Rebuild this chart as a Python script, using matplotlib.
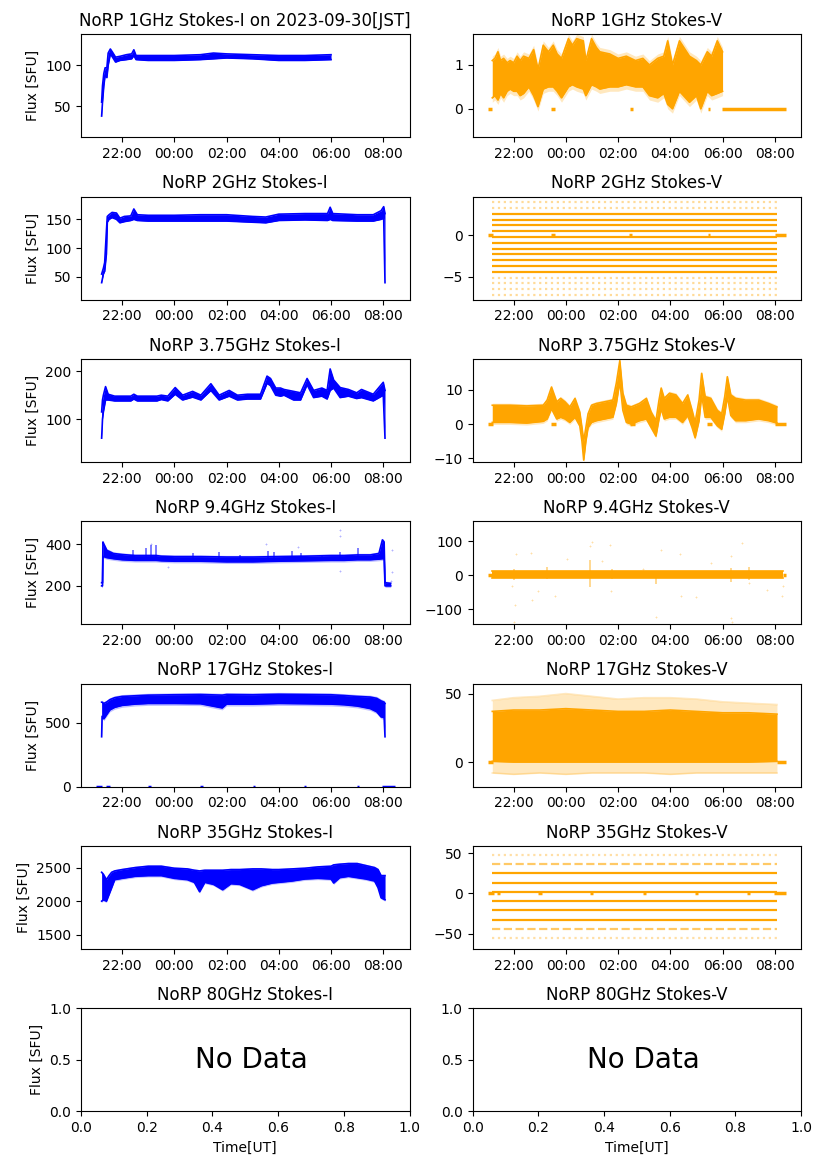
import datetime as dt
import matplotlib
matplotlib.use('Agg')
import matplotlib.pyplot as plt
import matplotlib.dates as mdates


# NoRP daily plot, 2023-09-29/30 (times in UT, 'HH:MM')
freqs = ['1GHz', '2GHz', '3.75GHz', '9.4GHz', '17GHz', '35GHz', '80GHz']
t_first, t_last = '21:00', '08:26'

# ---- Stokes-I bands (lower / upper envelope)
i1_time = ['21:13', '21:15', '21:18', '21:21', '21:25', '21:28', '21:33', '21:38', '21:45', '21:55', '22:10',
           '22:22', '22:27', '22:32', '23:00', '00:00', '01:00', '01:30', '02:00', '03:00', '04:00', '05:00', '06:00']
i1_lo = [38, 55, 75, 88, 85, 100, 114, 110, 104, 106, 107, 108, 112, 107, 106, 106, 107, 108, 109, 108, 106, 106, 107]
i1_hi = [55, 75, 90, 97, 97, 115, 120, 116, 110, 111, 113, 114, 119, 112, 112, 112, 113, 115, 114, 113, 112, 112, 113]

i2_time = ['21:13', '21:17', '21:20', '21:24', '21:26', '21:30', '21:37', '21:47', '21:55', '22:05', '22:20', '22:27',
           '22:35', '23:00', '00:00', '01:00', '02:00', '03:00', '03:30', '04:00', '05:00', '05:52', '05:58', '06:04',
           '07:00', '07:37', '07:55', '08:01', '08:04']
i2_lo = [40, 55, 60, 90, 145, 150, 153, 150, 144, 146, 148, 150, 148, 147, 147, 147, 147, 145, 144, 148, 149, 148,
         150, 148, 147, 147, 150, 152, 40]
i2_hi = [55, 65, 75, 130, 155, 158, 162, 161, 152, 155, 156, 168, 158, 157, 157, 158, 158, 155, 154, 159, 160, 160,
         171, 160, 158, 158, 165, 172, 160]

i3_time = ['21:13', '21:15', '21:17', '21:22', '21:28', '21:43', '22:20', '22:27', '22:35', '23:20', '23:30', '23:45',
           '00:02', '00:19', '00:42', '01:01', '01:24', '01:43', '02:06', '02:25', '02:48', '03:18', '03:33', '03:41',
           '03:53', '04:04', '04:12', '04:34', '04:50', '05:05', '05:20', '05:39', '05:51', '05:58', '06:06', '06:21',
           '06:40', '06:59', '07:10', '07:37', '08:00', '08:04']
i3_lo = [60, 100, 115, 140, 140, 138, 138, 142, 138, 138, 141, 138, 152, 140, 146, 140, 160, 140, 148, 140, 142, 142,
         175, 170, 150, 148, 150, 140, 140, 172, 145, 148, 142, 160, 165, 145, 148, 143, 145, 138, 150, 60]
i3_hi = [115, 140, 150, 168, 152, 148, 148, 152, 148, 148, 150, 148, 166, 150, 158, 150, 174, 150, 160, 150, 152, 152,
         190, 185, 165, 165, 162, 158, 155, 185, 160, 165, 160, 205, 182, 166, 162, 155, 162, 152, 177, 160]

i4_time = ['21:13', '21:15', '21:16', '21:18', '21:25', '21:40', '22:00', '22:30', '23:07', '23:18', '23:30', '00:00',
           '01:00', '02:00', '03:00', '04:00', '05:00', '06:00', '06:30', '07:00', '07:30', '07:50', '07:58', '08:02',
           '08:04', '08:05', '08:17']
i4_lo = [200, 200, 340, 340, 335, 330, 325, 322, 322, 322, 320, 318, 318, 315, 315, 318, 320, 322, 322, 325, 325,
         328, 330, 330, 200, 200, 200]
i4_hi = [215, 215, 410, 400, 370, 355, 350, 345, 345, 345, 342, 340, 340, 338, 338, 340, 342, 345, 345, 348, 348,
         355, 420, 410, 215, 215, 212]
i4_spike_time = ['22:25', '22:55', '23:07', '23:18', '00:43', '01:43', '02:30', '03:35', '03:50', '04:30', '04:50',
                 '05:40', '06:20', '07:03']
i4_spike_top = [370, 380, 395, 395, 355, 360, 350, 365, 360, 365, 355, 350, 360, 380]
i4_out_time = ['23:07', '03:30', '04:45', '06:20', '06:20', '06:20', '08:20', '08:20', '08:18', '23:45']
i4_out_val = [400, 400, 385, 465, 440, 270, 370, 265, 225, 290]

i5_time = ['21:13', '21:14', '21:18', '21:24', '21:32', '21:43', '22:00', '22:30', '23:00', '00:00', '01:00', '01:50',
           '02:00', '03:00', '04:00', '05:00', '06:00', '06:30', '07:00', '07:30', '07:45', '07:55', '08:02', '08:04']
i5_lo = [390, 550, 530, 560, 600, 620, 635, 645, 650, 650, 648, 615, 645, 645, 650, 648, 645, 640, 630, 610, 585,
         545, 540, 390]
i5_hi = [660, 660, 650, 660, 680, 695, 705, 710, 715, 718, 720, 715, 720, 718, 722, 720, 718, 712, 705, 700, 690,
         670, 660, 650]
i5_zero = [('21:01', '21:13'), ('21:24', '21:32'), ('23:00', '23:06'), ('00:58', '01:05'), ('03:00', '03:05'),
           ('04:57', '05:03'), ('06:59', '07:05'), ('07:56', '08:26')]

i6_time = ['21:13', '21:17', '21:24', '21:30', '21:36', '21:43', '22:00', '22:30', '23:00', '23:30', '00:00', '00:30',
           '00:46', '00:58', '01:10', '01:30', '01:51', '02:10', '02:30', '03:00', '03:20', '03:45', '04:00', '04:30',
           '05:00', '05:30', '06:00', '06:06', '06:20', '06:40', '07:00', '07:20', '07:40', '07:48', '07:55', '08:04']
i6_lo = [2000, 2020, 2000, 2100, 2200, 2320, 2340, 2370, 2380, 2380, 2340, 2320, 2280, 2140, 2280, 2250, 2170, 2260,
         2250, 2170, 2230, 2270, 2280, 2300, 2330, 2340, 2330, 2270, 2350, 2370, 2350, 2330, 2300, 2200, 2050, 2020]
i6_hi = [2430, 2400, 2320, 2380, 2430, 2450, 2470, 2500, 2520, 2520, 2490, 2480, 2460, 2450, 2460, 2460, 2460, 2470,
         2470, 2480, 2480, 2470, 2470, 2480, 2490, 2510, 2520, 2540, 2550, 2560, 2560, 2530, 2500, 2470, 2380, 2380]

# ---- Stokes-V
v1_time = ['21:11', '21:17', '21:24', '21:30', '21:37', '21:45', '21:52', '22:00', '22:08', '22:15', '22:23', '22:35',
           '22:46', '22:56', '23:08', '23:20', '23:31', '23:40', '23:50', '00:06', '00:15', '00:25', '00:40', '00:46',
           '00:59', '01:10', '01:18', '01:41', '02:00', '02:19', '02:40', '02:57', '03:12', '03:31', '03:45', '03:54',
           '04:05', '04:21', '04:44', '05:00', '05:10', '05:25', '05:35', '05:48', '06:00']
v1_lo = [0.25, 0.3, 0.2, 0.35, 0.25, 0.4, 0.45, 0.4, 0.4, 0.3, 0.35, 0.5, 0.3, 0.05, 0.45, 0.5, 0.5, 0.4, 0.25, 0.5,
         0.55, 0.5, 0.45, 0.3, 0.55, 0.5, 0.45, 0.5, 0.5, 0.55, 0.5, 0.5, 0.3, 0.25, 0.35, 0.1, 0.0, 0.4, 0.15, 0.3,
         0.0, 0.4, 0.3, 0.35, 0.4]
v1_hi = [1.1, 1.15, 1.3, 1.1, 1.15, 1.05, 1.1, 1.05, 1.2, 1.1, 1.2, 1.15, 1.35, 0.9, 1.45, 1.3, 1.45, 1.25, 1.15, 1.6,
         1.45, 1.6, 1.55, 1.1, 1.6, 1.4, 1.3, 1.25, 1.15, 1.2, 1.1, 1.15, 1.0, 1.15, 1.2, 1.55, 1.0, 1.55, 1.2, 1.1,
         1.0, 1.3, 1.2, 1.55, 1.3]
v1_zero = [('21:00', '21:11'), ('23:27', '23:34'), ('02:27', '02:35'), ('05:26', '05:32'), ('05:59', '08:26')]

v2_span = ('21:11', '08:05')
v2_levels = [-4.4, -3.7, -3.0, -2.3, -1.6, -0.9, -0.2, 0.5, 1.2, 1.9, 2.6]
v2_sparse = [-7.2, -6.5, -5.8, -5.1, 3.3, 4.0]
v2_zero = [('21:00', '21:13'), ('23:27', '23:35'), ('02:26', '02:33'), ('05:26', '05:32'), ('08:01', '08:26')]

v3_time = ['21:11', '21:52', '22:30', '23:08', '23:17', '23:27', '23:39', '23:48', '23:58', '00:09', '00:21', '00:32',
           '00:37', '00:41', '00:46', '00:51', '00:59', '01:10', '01:29', '01:48', '01:56', '02:04', '02:11', '02:19',
           '02:30', '02:49', '03:05', '03:16', '03:27', '03:34', '03:39', '03:46', '03:58', '04:13', '04:28', '04:40',
           '04:50', '04:57', '05:06', '05:12', '05:20', '05:33', '05:48', '05:58', '06:05', '06:11', '06:19', '06:30',
           '06:53', '07:23', '07:46', '08:05']
v3_lo = [0.5, 0.5, 0.3, 0.8, 1.5, 4.5, 1.5, 2.0, 1.5, 0.5, 2.0, -0.5, -5, -10.5, -5, -1.0, 0.5, 1.0, 1.5, 2.0, 6, 12.5,
         4, 0.5, 0.0, 1.0, 1.5, -1.0, -3.5, 1.5, 4.5, 1.5, 2.0, 2.0, 0.5, 2.5, -1.0, -4.0, 1.0, 8.5, 2.0, 2.0, -0.5,
         -1.5, 3.0, 8.0, 2.5, 1.0, 1.0, 1.5, 1.0, 0.3]
v3_hi = [5.5, 5.5, 5.3, 5.5, 7.0, 10.8, 6.5, 7.5, 6.5, 5.0, 7.5, 3.5, -1.0, -5.0, -1.0, 3.0, 5.5, 6.0, 6.5, 7.0, 12,
         18.5, 9.0, 5.5, 5.0, 6.0, 7.5, 3.5, 1.0, 7.0, 10.5, 7.5, 9.0, 8.5, 6.0, 8.5, 4.0, 0.5, 7.0, 14.8, 8.0, 7.5,
         4.0, 3.0, 8.0, 13.8, 8.5, 7.5, 7.0, 7.0, 6.0, 5.0]
v3_zero = [('21:00', '21:13'), ('23:27', '23:37'), ('02:27', '02:38'), ('05:24', '05:36'), ('08:01', '08:26')]

v4_time = ['21:11', '08:18']
v4_lo = [-8, -8]
v4_hi = [12, 12]
v4_burst_time = ['22:00', '23:16', '00:55', '01:46', '03:27', '06:19', '07:00']
v4_burst_lo = [-15, -12, -35, -10, -25, -20, -15]
v4_burst_hi = [20, 25, 45, 20, 12, 22, 25]
v4_out_time = ['22:06', '21:56', '22:04', '22:02', '22:40', '22:42', '22:57', '23:34', '00:02', '00:55', '01:01',
               '01:22', '01:42', '01:44', '02:57', '03:27', '03:39', '04:22', '04:24', '04:59', '05:33', '06:19',
               '06:19', '06:21', '06:45', '07:00', '07:42', '08:19', '08:17']
v4_out_val = [62, -32, -87, -136, 67, -71, -47, -61, 47, 87, 97, 42, 89, -47, 18, -121, 74, 62, -61, -63, 37, 57,
              -126, -136, 95, -22, -42, -32, -61]
v4_zero = [('21:00', '21:12'), ('08:18', '08:26')]

v5_time = ['21:11', '22:00', '23:00', '00:00', '01:00', '02:00', '03:00', '04:00', '05:00', '06:00', '07:00', '08:05']
v5_core_lo = [0.5, 0, 0, 0, 0, 0, 0, 0, 0, 0, 0, 0.5]
v5_core_hi = [37, 38, 38, 39, 38, 37, 37, 38, 37, 36, 36, 35]
v5_out_lo = [-8, -9, -8, -9, -8, -8, -8, -9, -8, -8, -8, -8]
v5_out_hi = [45, 47, 48, 50, 48, 46, 47, 47, 46, 44, 43, 42]
v5_zero = [('21:00', '21:12'), ('08:04', '08:26')]

v6_span = ('21:11', '08:05')
v6_levels = [-32.5, -21, -9.5, 2, 13.5, 25]
v6_half = [-44, 36.5]
v6_sparse = [-55.5, 48]
v6_zero = [('21:00', '21:15'), ('21:22', '21:28'), ('22:57', '23:05'), ('00:55', '01:02'), ('02:57', '03:05'),
           ('04:56', '05:04'), ('06:57', '07:04'), ('07:58', '08:26')]

i_ylim = [(12, 138), (10.5, 189.5), (10, 226), (16, 509), (0, 805), (1287, 2822)]
i_yticks = [[50, 100], [50, 100, 150], [100, 200], [200, 400], [0, 500], [1500, 2000, 2500]]
v_ylim = [(-0.65, 1.70), (-7.75, 4.68), (-11.05, 19.0), (-144, 159), (-18, 57.3), (-69, 59)]
v_yticks = [[0, 1], [-5, 0], [-10, 0, 10], [-100, 0, 100], [0, 50], [-50, 0, 50]]


def tt(lst):
    out = []
    for s in lst:
        h, m = map(int, s.split(':'))
        day = 29 if h >= 12 else 30
        out.append(dt.datetime(2023, 9, day, h, m))
    return out


def band(ax, times, lo, hi, color, alpha=1.0, fuzz=0.0):
    t = tt(times)
    if fuzz:
        # faint scatter-like fringe around the dense core
        ax.fill_between(t, [v - fuzz for v in lo], [v + fuzz for v in hi], color=color, alpha=0.25, lw=0)
    ax.fill_between(t, lo, hi, color=color, alpha=alpha, lw=0)
    ax.plot(t, lo, color=color, lw=1.2, alpha=alpha)
    ax.plot(t, hi, color=color, lw=1.2, alpha=alpha)


def zeros(ax, segs, color):
    for a, b in segs:
        ta, tb = tt([a, b])
        ax.hlines(0, ta, tb, color=color, lw=2.5)


def levels(ax, vals, span, color, ls='-', alpha=1.0):
    ta, tb = tt(span)
    ax.hlines(vals, ta, tb, color=color, lw=1.6, linestyles=ls, alpha=alpha)


BLUE = 'blue'
ORANGE = 'orange'

fig, axes = plt.subplots(7, 2, figsize=(8.27, 11.69))
plt.subplots_adjust(left=0.098, right=0.9686, top=0.9707, bottom=0.0493, wspace=0.192, hspace=0.575)

# Stokes-I column
band(axes[0, 0], i1_time, i1_lo, i1_hi, BLUE)
band(axes[1, 0], i2_time, i2_lo, i2_hi, BLUE)
band(axes[2, 0], i3_time, i3_lo, i3_hi, BLUE)
band(axes[3, 0], i4_time, i4_lo, i4_hi, BLUE, fuzz=8)
axes[3, 0].vlines(tt(i4_spike_time), 330, i4_spike_top, color=BLUE, lw=1.2, alpha=0.6)
axes[3, 0].scatter(tt(i4_out_time), i4_out_val, s=4, marker='+', color=BLUE, alpha=0.3, lw=0.6)
band(axes[4, 0], i5_time, i5_lo, i5_hi, BLUE, fuzz=15)
zeros(axes[4, 0], i5_zero, BLUE)
band(axes[5, 0], i6_time, i6_lo, i6_hi, BLUE, fuzz=20)

# Stokes-V column
band(axes[0, 1], v1_time, v1_lo, v1_hi, ORANGE, fuzz=0.1)
zeros(axes[0, 1], v1_zero, ORANGE)
levels(axes[1, 1], v2_levels, v2_span, ORANGE)
levels(axes[1, 1], v2_sparse, v2_span, ORANGE, ls=':', alpha=0.4)
zeros(axes[1, 1], v2_zero, ORANGE)
band(axes[2, 1], v3_time, v3_lo, v3_hi, ORANGE, fuzz=0.6)
zeros(axes[2, 1], v3_zero, ORANGE)
band(axes[3, 1], v4_time, v4_lo, v4_hi, ORANGE)
axes[3, 1].vlines(tt(v4_burst_time), v4_burst_lo, v4_burst_hi, color=ORANGE, lw=1.2, alpha=0.5)
axes[3, 1].scatter(tt(v4_out_time), v4_out_val, s=4, marker='+', color=ORANGE, alpha=0.35, lw=0.6)
zeros(axes[3, 1], v4_zero, ORANGE)
band(axes[4, 1], v5_time, v5_out_lo, v5_out_hi, ORANGE, alpha=0.25)
band(axes[4, 1], v5_time, v5_core_lo, v5_core_hi, ORANGE)
zeros(axes[4, 1], v5_zero, ORANGE)
levels(axes[5, 1], v6_levels, v6_span, ORANGE)
levels(axes[5, 1], v6_half, v6_span, ORANGE, ls='--', alpha=0.6)
levels(axes[5, 1], v6_sparse, v6_span, ORANGE, ls=':', alpha=0.35)
zeros(axes[5, 1], v6_zero, ORANGE)

# axes cosmetics
t0, t1 = tt([t_first, t_last])
pad = (t1 - t0) * 0.05
for row in range(6):
    for col in range(2):
        ax = axes[row, col]
        ax.set_xlim(t0 - pad, t1 + pad)
        ax.xaxis.set_major_locator(mdates.HourLocator(byhour=range(0, 24, 2)))
        ax.xaxis.set_major_formatter(mdates.DateFormatter('%H:%M'))
    axes[row, 0].set_ylim(*i_ylim[row])
    axes[row, 0].set_yticks(i_yticks[row])
    axes[row, 1].set_ylim(*v_ylim[row])
    axes[row, 1].set_yticks(v_yticks[row])

for row, f in enumerate(freqs):
    title_i = 'NoRP %s Stokes-I' % f
    if row == 0:
        title_i += ' on 2023-09-30[JST]'
    axes[row, 0].set_title(title_i)
    axes[row, 1].set_title('NoRP %s Stokes-V' % f)
    axes[row, 0].set_ylabel('Flux [SFU]')

# 80 GHz: nothing observed
for ax in axes[6]:
    ax.text(0.52, 0.5, 'No Data', fontsize=20, ha='center', va='center', transform=ax.transAxes)
    ax.set_xlim(0, 1)
    ax.set_ylim(0, 1)
    ax.set_yticks([0, 0.5, 1.0])
    ax.set_xlabel('Time[UT]')

plt.savefig('out.png', dpi=100)
